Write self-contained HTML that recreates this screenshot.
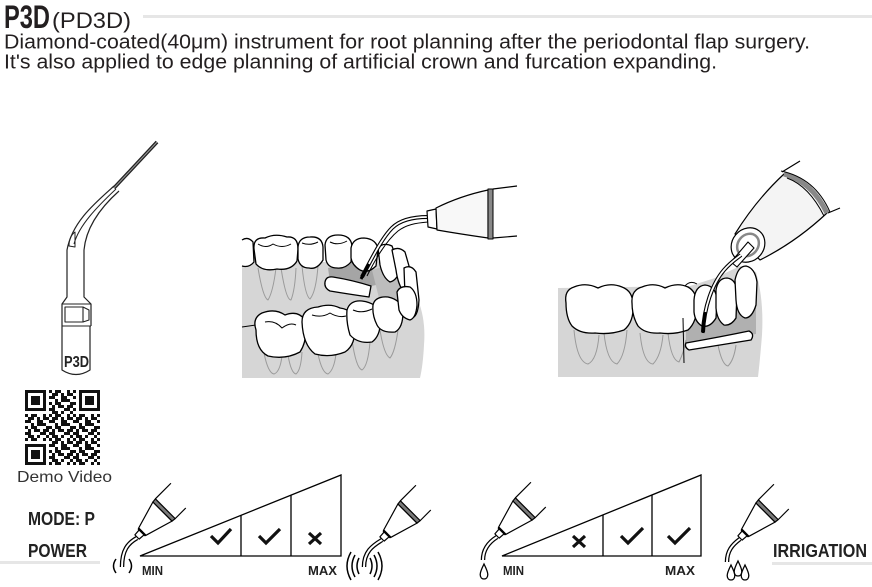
<!DOCTYPE html>
<html><head><meta charset="utf-8"><style>
html,body{margin:0;padding:0;background:#fff;}
svg{display:block;}
</style></head><body>
<svg width="872" height="587" viewBox="0 0 872 587" xmlns="http://www.w3.org/2000/svg" font-family="'Liberation Sans', Arial, sans-serif">
<defs>
<pattern id="qr" x="25" y="390" width="24" height="24" patternUnits="userSpaceOnUse">
<path fill="#111" d="M0,0h3v3h-3z M6,0h6v3h-6z M18,0h3v3h-3z M3,3h6v3h-6z M12,3h3v3h-3z M18,3h6v3h-6z M0,6h6v3h-6z M12,6h6v3h-6z M6,9h3v3h-3z M12,9h9v3h-9z M0,12h3v3h-3z M6,12h6v3h-6z M21,12h3v3h-3z M3,15h3v3h-3z M9,15h6v3h-6z M18,15h6v3h-6z M0,18h6v3h-6z M15,18h6v3h-6z M3,21h6v3h-6z M12,21h3v3h-3z M21,21h3v3h-3z"/>
</pattern>
<g id="hp" stroke="#000" stroke-width="1.2" fill="#fff" stroke-linejoin="round">
<path d="M-3,0 L3,0 L3.5,-7 L-3.5,-7Z"/>
<path d="M-5,-7 L5,-7 L13.5,-36 L-13.5,-36Z"/>
<path d="M-5,-7 L5,-7" stroke-width="2.4"/>
<path d="M-13.5,-36 L13.5,-36 L14,-40 L-14,-40Z" fill="#7a7a7a"/>
<path d="M-14,-40 L-14,-62 M14,-40 L14,-55" fill="none"/>
</g>
<path id="drop" d="M0,-8 C2.5,-3 3.8,0 3.8,2.5 C3.8,5.5 2,7 0,7 C-2,7 -3.8,5.5 -3.8,2.5 C-3.8,0 -2.5,-3 0,-8Z" fill="#fff" stroke="#000" stroke-width="1.3"/>
</defs>

<!-- Header -->
<text x="4" y="28" font-size="32" font-weight="bold" fill="#231f20" textLength="46" lengthAdjust="spacingAndGlyphs">P3D</text>
<text x="52" y="28" font-size="22" fill="#231f20" textLength="79" lengthAdjust="spacingAndGlyphs">(PD3D)</text>
<rect x="143" y="15" width="729" height="3" fill="#e6e6e6"/>
<text x="4" y="48.5" font-size="20.5" fill="#231f20" textLength="806" lengthAdjust="spacingAndGlyphs">Diamond-coated(40μm) instrument for root planning after the periodontal flap surgery.</text>
<text x="4" y="68.5" font-size="20.5" fill="#231f20" textLength="713" lengthAdjust="spacingAndGlyphs">It's also applied to edge planning of artificial crown and furcation expanding.</text>

<!-- P3D tip -->
<g fill="none" stroke="#222" stroke-linejoin="round">
<path d="M157,142 L114,188" stroke-width="3.6"/>
<path d="M157,142 L114,188" stroke="#999" stroke-width="1"/>
<path d="M114,186 C95,203 72,222 67,250 L67,297 L62,304 L62,326" stroke-width="1.2"/>
<path d="M119,191 C100,208 86,228 84,250 L84,297 L91,304 L91,326" stroke-width="1.2"/>
<path d="M116,189 C98,206 79,225 74,244" stroke-width="1"/>
<path d="M69,246 C69,240 71,235 75,232 L75,247 Z" stroke-width="1"/>
<path d="M62,304 L91,304 M65,307 L83,307 L83,322 L65,322 Z M83,307 L89,310 L89,320 L83,322 M62,326 L91,326" stroke-width="1.1"/>
<path d="M62,326 L62,370 Q76,379 90,370 L90,326" stroke-width="1.2"/>
</g>
<text x="64" y="367" font-size="16" font-weight="bold" fill="#222" textLength="25" lengthAdjust="spacingAndGlyphs">P3D</text>

<!-- QR -->
<rect x="25" y="390" width="75" height="75" fill="url(#qr)"/>
<rect x="25" y="390" width="24" height="24" fill="#fff"/>
<rect x="76" y="390" width="24" height="24" fill="#fff"/>
<rect x="25" y="441" width="24" height="24" fill="#fff"/>
<g fill="#111">
<path d="M25,390h21v21h-21z M28,393v15h15v-15z M31,396h9v9h-9z" fill-rule="evenodd"/>
<path d="M79,390h21v21h-21z M82,393v15h15v-15z M85,396h9v9h-9z" fill-rule="evenodd"/>
<path d="M25,444h21v21h-21z M28,447v15h15v-15z M31,450h9v9h-9z" fill-rule="evenodd"/>
</g>
<text x="17" y="482" font-size="16" fill="#333" textLength="95" lengthAdjust="spacingAndGlyphs">Demo Video</text>

<!-- Middle illustration -->
<g stroke-linejoin="round">
<path d="M242,262 L375,262 L400,258 L412,275 L418,300 Q426,320 424,345 Q423,365 420,378 L242,378Z" fill="#d6d6d6"/>
<path d="M328,268 L352,262 L372,266 L376,285 L362,288 L330,282Z" fill="#a5a5a5"/>
<path d="M372,270 L398,262 L406,300 L380,302Z" fill="#bdbdbd"/>
<g fill="none" stroke="#9a9a9a" stroke-width="1">
<path d="M258,268 Q263,298 268,300 Q273,292 276,268"/>
<path d="M281,268 Q286,300 291,300 Q295,290 296,268"/>
<path d="M302,266 Q305,296 310,299 Q316,292 318,266"/>
<path d="M264,353 Q268,373 274,374 Q280,372 282,356"/>
<path d="M288,355 Q291,373 296,374 Q301,370 302,352"/>
<path d="M318,354 Q322,373 328,374 Q334,370 336,354"/>
<path d="M352,340 Q356,368 362,370 Q368,366 370,342"/>
<path d="M380,330 Q384,355 390,358 Q395,352 398,330"/>
</g>
<path d="M242,327 L256,325" stroke="#000" stroke-width="1"/>
<g fill="#fff" stroke="#000" stroke-width="1.3">
<path d="M242,240 Q248,236 253,242 L254,262 Q249,268 242,266"/>
<path d="M254,249 Q253,237 265,238 Q275,233 287,237 Q298,236 298,249 L297,261 Q291,271 277,269 Q263,272 256,264 Z"/>
<path d="M298,247 Q299,237 310,237 Q322,236 323,247 L323,260 Q317,270 309,268 Q300,268 298,259 Z"/>
<path d="M325,245 Q326,235 338,235 Q351,235 352,246 L351,262 Q345,269 337,268 Q328,268 326,260 Z"/>
<path d="M351,248 Q353,238 364,238 Q377,239 378,250 L376,266 Q368,274 360,270 Q352,265 351,258 Z"/>
<path d="M378,248 Q383,242 392,246 L400,268 Q398,280 390,282 Q383,278 380,265 Z"/>
<path d="M392,250 Q399,246 405,252 L413,280 Q411,292 404,292 Q398,285 396,270 Z"/>
<path d="M404,268 Q411,264 416,272 L419,300 Q418,318 411,318 Q406,310 405,295 Z"/>
<path d="M325,282 Q326,276 333,277 Q352,280 371,286 L369,297 Q348,294 330,291 Q324,288 325,282 Z"/>
<path d="M256,330 Q252,318 262,313 Q275,308 285,315 Q298,310 305,320 Q308,340 300,352 Q285,360 268,356 Q256,350 256,330 Z"/>
<path d="M302,322 Q302,308 318,307 Q330,303 340,308 Q355,310 355,325 Q356,345 345,352 Q330,358 315,354 Q303,345 302,322 Z"/>
<path d="M347,310 Q350,300 362,301 Q378,303 380,315 Q382,335 372,342 Q358,344 350,335 Q346,322 347,310 Z"/>
<path d="M373,305 Q375,296 388,297 Q402,300 403,312 Q403,328 395,332 Q381,333 377,325 Q372,315 373,305 Z"/>
<path d="M397,292 Q400,285 410,287 Q417,292 417,305 Q416,318 410,320 Q402,318 399,310 Z"/>
</g>
<g fill="none" stroke="#000" stroke-width="1">
<path d="M258,244 Q266,249 273,244 Q282,249 291,244"/>
<path d="M330,242 Q338,246 347,241"/>
<path d="M302,243 Q310,246 318,242"/>
<path d="M265,322 Q275,320 282,328 Q290,322 296,325"/>
<path d="M312,315 Q322,318 330,313 Q338,318 346,316"/>
<path d="M353,310 Q362,314 372,309"/>
</g>
<!-- handpiece middle -->
<path d="M362,277 C372,258 382,238 392,228 C400,220 412,217 428,217" fill="none" stroke="#000" stroke-width="4"/>
<path d="M362,277 C372,258 382,238 392,228 C400,220 412,217 428,217" fill="none" stroke="#fff" stroke-width="1.8"/>
<path d="M367,276 C377,256 387,240 398,231 C406,225 415,223 428,222" fill="none" stroke="#000" stroke-width="1"/>
<path d="M361,279 L369,264" stroke="#000" stroke-width="3"/>
<path d="M427,211 L436,209 L437,229 L428,227 Z" fill="#fff" stroke="#000" stroke-width="1.2"/>
<path d="M436,208 Q460,196 488,190 L488,238 Q460,234 437,230 Z" fill="#f8f8f8" stroke="#000" stroke-width="1.2"/>
<rect x="488" y="189" width="5" height="50" fill="#888" stroke="#000" stroke-width="1"/>
<path d="M493,189 L517,186 M493,238 L517,236" stroke="#000" stroke-width="1.2" fill="none"/>
</g>

<!-- Right illustration -->
<g stroke-linejoin="round">
<path d="M558,288 L690,286 L715,278 L740,266 L756,272 Q764,300 762,335 Q760,360 758,377 L558,377 Z" fill="#d6d6d6"/>
<path d="M686,312 L756,300 L756,334 L686,346 Z" fill="#b0b0b0"/>
<g fill="none" stroke="#999" stroke-width="1">
<path d="M574,330 Q577,362 588,364 Q597,360 599,335"/>
<path d="M604,333 Q607,362 617,364 Q625,356 627,330"/>
<path d="M640,333 Q643,363 653,364 Q661,356 663,335"/>
<path d="M668,333 Q671,360 679,362 Q684,352 686,340"/>
<path d="M718,345 Q722,365 728,366 Q734,360 736,345"/>
</g>
<path d="M685,286 Q690,280 697,284" fill="#fff" stroke="#000" stroke-width="1"/>
<g fill="#fff" stroke="#000" stroke-width="1.3">
<path d="M566,303 Q564,290 574,287 Q586,282 598,288 Q610,282 622,287 Q633,291 633,305 Q634,322 624,330 Q610,335 595,333 Q580,334 572,326 Q566,318 566,303 Z"/>
<path d="M632,303 Q631,290 642,287 Q654,282 665,288 Q677,282 688,287 Q697,292 697,305 Q697,322 688,330 Q674,335 660,333 Q645,334 638,326 Q632,316 632,303 Z"/>
<path d="M694,300 Q695,286 705,285 Q716,286 717,300 L716,318 Q710,328 702,326 Q695,322 694,312 Z"/>
<path d="M716,290 Q718,278 727,278 Q736,279 737,292 L736,318 Q731,326 724,325 Q717,320 716,308 Z"/>
<path d="M735,280 Q738,266 746,266 Q755,268 757,282 L756,305 Q752,318 745,318 Q737,315 736,300 Z"/>
<path d="M686,343 Q720,337 749,331 Q755,334 751,340 Q720,345 689,350 Q684,347 686,343 Z"/>
</g>
<path d="M683,318 L684,363" stroke="#000" stroke-width="1"/>
<!-- handpiece right -->
<path d="M735,234 Q756,200 784,174 Q812,182 827,213 Q796,242 760,260 Z" fill="#f4f4f4" stroke="#000" stroke-width="1.2"/>
<path d="M784,174 Q812,182 827,213" fill="none" stroke="#888" stroke-width="5"/>
<path d="M781,171 Q815,178 830,212 M787,178 Q809,186 824,216" fill="none" stroke="#000" stroke-width="1"/>
<path d="M782,172 L800,161 M828,213 L840,208" stroke="#000" stroke-width="1.2"/>
<ellipse cx="748" cy="245" rx="16" ry="18" transform="rotate(40 748 245)" fill="#fff" stroke="#000" stroke-width="1.2"/>
<ellipse cx="748" cy="245" rx="10" ry="12" transform="rotate(40 748 245)" fill="#fff" stroke="#888" stroke-width="2.5"/>
<path d="M731,262 L737,267 L754,248 L748,242 Z" fill="#fff" stroke="#000" stroke-width="1.1"/>
<path d="M703,332 C704,308 712,284 724,270 C731,262 736,259 741,255" fill="none" stroke="#000" stroke-width="4"/>
<path d="M703,332 C704,308 712,284 724,270 C731,262 736,259 741,255" fill="none" stroke="#fff" stroke-width="1.8"/>
<path d="M703,333 L705,312" stroke="#000" stroke-width="3"/>
</g>

<!-- Power chart -->
<text x="28" y="525" font-size="18" font-weight="bold" fill="#222" textLength="67" lengthAdjust="spacingAndGlyphs">MODE: P</text>
<text x="28" y="557" font-size="18" font-weight="bold" fill="#222" textLength="59" lengthAdjust="spacingAndGlyphs">POWER</text>
<rect x="0" y="561" width="100" height="3" fill="#e6e6e6"/>
<g fill="none" stroke="#000" stroke-width="1.3">
<path d="M140,556 L341,475 L341,556 Z"/>
<path d="M241,515.3 V556 M291,495.2 V556"/>
<path d="M502,556 L701,475 L701,556 Z"/>
<path d="M603,515 V556 M652,495.1 V556"/>
</g>
<g fill="none" stroke="#111" stroke-width="3.2">
<path d="M211,536 L218,543 L231,529"/>
<path d="M259,536 L266,543 L280,529"/>
<path d="M309,533 L321,544 M321,533 L309,544"/>
<path d="M573,536 L585,547 M585,536 L573,547"/>
<path d="M621,536 L628,543 L643,528"/>
<path d="M668,536 L675,543 L690,528"/>
</g>
<g font-size="12.5" font-weight="bold" fill="#222">
<text x="142" y="575" textLength="21" lengthAdjust="spacingAndGlyphs">MIN</text>
<text x="308" y="575" textLength="29" lengthAdjust="spacingAndGlyphs">MAX</text>
<text x="503" y="575" textLength="21" lengthAdjust="spacingAndGlyphs">MIN</text>
<text x="665" y="575" textLength="30" lengthAdjust="spacingAndGlyphs">MAX</text>
</g>
<text x="773" y="557" font-size="18" font-weight="bold" fill="#222" textLength="94" lengthAdjust="spacingAndGlyphs">IRRIGATION</text>
<rect x="772" y="562" width="100" height="3" fill="#e6e6e6"/>

<!-- handpieces -->
<use href="#hp" transform="translate(137,537) rotate(45)"/>
<path d="M137,538 C128,543 122,550 122,567" fill="none" stroke="#000" stroke-width="4.5"/>
<path d="M137,538 C128,543 122,550 122,567" fill="none" stroke="#fff" stroke-width="2"/>
<path d="M116,559 Q111,566 116,573 M129,559 Q134,566 129,573" fill="none" stroke="#000" stroke-width="1.5"/>

<use href="#hp" transform="translate(382,539) rotate(45)"/>
<path d="M382,540 C372,546 364,552 364,567" fill="none" stroke="#000" stroke-width="4.5"/>
<path d="M382,540 C372,546 364,552 364,567" fill="none" stroke="#fff" stroke-width="2"/>
<path d="M359,558 Q355,566 359,574 M355,555 Q349,566 355,577 M351,552 Q343,566 351,580 M370,558 Q374,566 370,574 M374,555 Q380,566 374,577 M378,552 Q386,566 378,580" fill="none" stroke="#000" stroke-width="1.5"/>

<use href="#hp" transform="translate(497,536) rotate(45)"/>
<path d="M497,537 C489,542 483,549 483,560" fill="none" stroke="#000" stroke-width="4.5"/>
<path d="M497,537 C489,542 483,549 483,560" fill="none" stroke="#fff" stroke-width="2"/>
<use href="#drop" transform="translate(484,572)"/>

<use href="#hp" transform="translate(740,538) rotate(45)"/>
<path d="M740,539 C732,545 727,551 727,562" fill="none" stroke="#000" stroke-width="4.5"/>
<path d="M740,539 C732,545 727,551 727,562" fill="none" stroke="#fff" stroke-width="2"/>
<use href="#drop" transform="translate(731,573)"/>
<use href="#drop" transform="translate(738,569)"/>
<use href="#drop" transform="translate(745,573)"/>
</svg>
</body></html>
